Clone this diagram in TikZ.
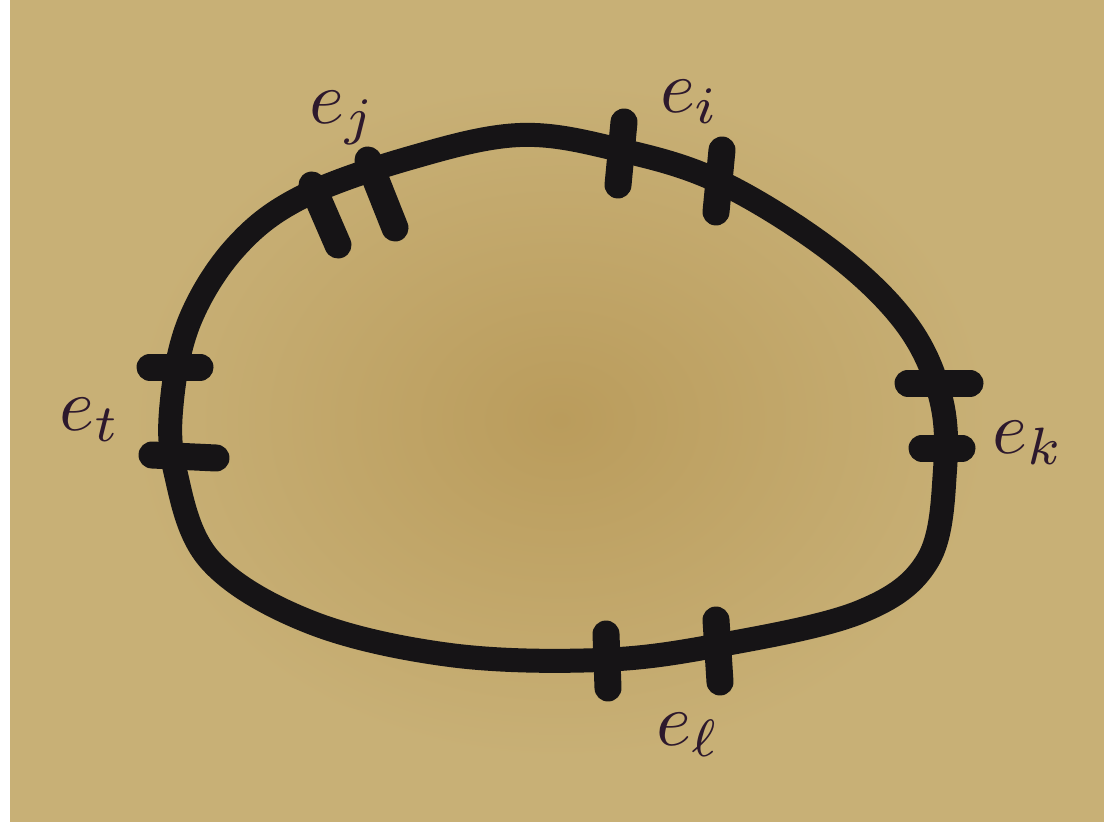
\documentclass[tikz,border=0pt]{standalone}
\usetikzlibrary{calc}
\definecolor{bgc}{RGB}{200,176,118}
\definecolor{bgin}{RGB}{186,156,92}
\definecolor{ink}{RGB}{22,20,22}
\definecolor{lab}{RGB}{45,25,45}
\tikzset{
  loopline/.style={draw=ink,line width=24pt,line cap=round,line join=round},
  tick/.style={draw=ink,line width=27pt,line cap=round},
  lbl/.style={text=lab,inner sep=0pt,scale=7.5}
}
\begin{document}
\begin{tikzpicture}[x=1pt,y=-1pt]
\useasboundingbox (0,0) rectangle (1104,837);
\fill[white] (0,0) rectangle (1104,837);
\fill[bgc] (10,0) rectangle (1104,822);
\shade[inner color=bgin,outer color=bgc] (560,420) ellipse (430 and 340);
% loop
\draw[loopline] plot[smooth cycle,tension=0.6] coordinates {
 (300,198) (410,158) (520,135) (620,150) (720,182) (830,250) (905,322) (940,395)
 (945,470) (928,560) (860,612) (720,645) (600,660) (450,655) (310,622)
 (210,560) (175,470) (172,400) (190,320) (235,248)};
% ticks e_j
\coordinate (j1a) at (312,185); \coordinate (j1b) at (338,245);
\coordinate (j2a) at (368,160); \coordinate (j2b) at (395,228);
\draw[tick] (j1a) -- (j1b);
\draw[tick] (j2a) -- (j2b);
% ticks e_i
\coordinate (i1a) at (624,122); \coordinate (i1b) at (618,185);
\coordinate (i2a) at (722,150); \coordinate (i2b) at (716,212);
\draw[tick] (i1a) -- (i1b);
\draw[tick] (i2a) -- (i2b);
% ticks e_t
\coordinate (t1a) at (150,367); \coordinate (t1b) at (200,367);
\coordinate (t2a) at (152,455); \coordinate (t2b) at (216,458);
\draw[tick] (t1a) -- (t1b);
\draw[tick] (t2a) -- (t2b);
% ticks e_k
\coordinate (k1a) at (908,383); \coordinate (k1b) at (970,383);
\coordinate (k2a) at (922,448); \coordinate (k2b) at (962,448);
\draw[tick] (k1a) -- (k1b);
\draw[tick] (k2a) -- (k2b);
% ticks e_l
\coordinate (l1a) at (606,634); \coordinate (l1b) at (608,688);
\coordinate (l2a) at (716,620); \coordinate (l2b) at (720,682);
\draw[tick] (l1a) -- (l1b);
\draw[tick] (l2a) -- (l2b);
% labels
\node[lbl] (ej) at (343,118) {$e_j$};
\node[lbl] (ei) at (690,102) {$e_i$};
\node[lbl] (et) at (90,420) {$e_t$};
\node[lbl] (ek) at (1028,443) {$e_k$};
\node[lbl] (el) at (688,735) {$e_\ell$};
\end{tikzpicture}
\end{document}
